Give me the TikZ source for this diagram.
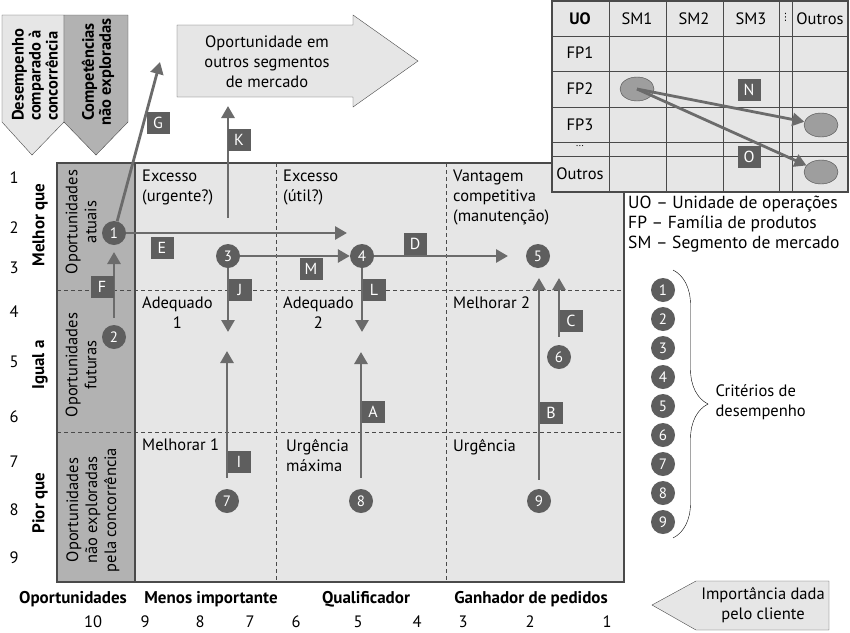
\documentclass[tikz,border=0pt]{standalone}
\usepackage{fontspec}
\setmainfont{PT Sans}
\newfontfamily\symfont{DejaVu Sans}
\usetikzlibrary{arrows.meta,shapes.geometric,decorations.pathreplacing}

\definecolor{darkfill}{HTML}{5E5E5E}
\definecolor{flowgray}{HTML}{6B6B6B}
\definecolor{lightfill}{HTML}{E6E6E6}
\definecolor{midfill}{HTML}{B2B2B2}
\definecolor{edgegray}{HTML}{4A4A4A}
\definecolor{blobfill}{HTML}{9E9E9E}

\tikzset{
  num/.style={circle,fill=darkfill,text=white,inner sep=0pt,minimum size=24pt,font=\fontsize{15}{15}\selectfont},
  tag/.style={fill=darkfill,text=white,inner sep=0pt,minimum width=23pt,minimum height=22pt,font=\fontsize{16}{16}\selectfont},
  flow/.style={draw=flowgray,line width=2.8pt,-{Triangle[length=12pt,width=13pt]}},
  celltxt/.style={anchor=north west,align=left,inner sep=0pt},
  vtxt/.style={rotate=90,align=center,inner sep=0pt,font=\fontsize{16.5}{19}\selectfont},
  headtxt/.style={rotate=90,inner sep=0pt,font=\fontsize{16.5}{17}\selectfont\bfseries},
  axislbl/.style={font=\fontsize{17}{17}\selectfont\bfseries},
  blob/.style={ellipse,draw=edgegray,fill=blobfill,minimum width=34pt,minimum height=24pt,inner sep=0pt},
  grid/.style={draw=edgegray,line width=1pt,dash pattern=on 4pt off 3pt},
}

\begin{document}
\begin{tikzpicture}[x=1pt,y=-1pt,font=\fontsize{16.5}{20}\selectfont]
\useasboundingbox (0,0) rectangle (850,632);

% header arrows
\draw[edgegray,fill=lightfill] (2,15) -- (64,15) -- (64,122) -- (32,155) -- (2,122) -- cycle;
\draw[edgegray,fill=midfill] (64,15) -- (128,15) -- (128,122) -- (96,155) -- (64,122) -- cycle;
\node[headtxt,align=left,anchor=west] (hperf) at (35,121) {Desempenho\\comparado à\\concorrência};
\node[headtxt,align=center] (hcomp) at (98,72) {Competências\\não exploradas};

% big arrow on top
\draw[edgegray,fill=lightfill] (177,25) -- (353,25) -- (353,15) -- (418,61) -- (353,107) -- (353,97) -- (177,97) -- cycle;
\node[align=center] (other) at (267,62) {Oportunidade em\\outros segmentos\\de mercado};

% chart
\fill[midfill] (57,163) rectangle (135,582);
\fill[lightfill] (135,163) rectangle (624,582);
\draw[grid] (276,163) -- (276,582);
\draw[grid] (446,163) -- (446,582);
\draw[grid] (57,290) -- (624,290);
\draw[grid] (57,432) -- (624,432);
\draw[edgegray,line width=1.2pt] (135,163) -- (135,582);
\draw[edgegray,line width=1.2pt] (57,163) rectangle (624,582);

\node[celltxt] (exc1) at (142,170) {Excesso\\(urgente?)};
\node[celltxt] (exc2) at (283,170) {Excesso\\(útil?)};
\node[celltxt] (vant) at (453,170) {Vantagem\\competitiva\\(manutenção)};
\node[celltxt,align=center] (adq1) at (142,297) {Adequado\\1};
\node[celltxt,align=center] (adq2) at (283,297) {Adequado\\2};
\node[celltxt] (mel2) at (453,297) {Melhorar 2};
\node[celltxt] (mel1) at (142,439) {Melhorar 1};
\node[celltxt] (urg1) at (286,439) {Urgência\\máxima};
\node[celltxt] (urg2) at (453,439) {Urgência};

\node[vtxt] (opat) at (81,222) {Oportunidades\\atuais};
\node[vtxt] (opfu) at (81,365) {Oportunidades\\futuras};
\node[vtxt] (opne) at (93,510) {Oportunidades\\não exploradas\\pela concorrência};

% axes
\node[axislbl,rotate=90] (better) at (40,225) {Melhor que};
\node[axislbl,rotate=90] (equal) at (40,365) {Igual a};
\node[axislbl,rotate=90] (worse) at (40,503) {Pior que};
\foreach \v/\py in {1/178,2/228,3/268,4/312,5/362,6/417,7/462,8/510,9/558}
  \node (perf\v) at (14,\py) {\v};

\node[axislbl] (opp) at (73,599) {Oportunidades};
\node[axislbl] (less) at (211,599) {Menos importante};
\node[axislbl] (qual) at (366,599) {Qualificador};
\node[axislbl] (winner) at (531,599) {Ganhador de pedidos};
\foreach \v/\px in {10/93,9/145,8/200,7/250,6/296,5/358,4/417,3/463,2/530,1/607}
  \node (imp\v) at (\px,622) {\v};

\draw[edgegray,fill=lightfill] (652,605) -- (696,581) -- (829,581) -- (829,630) -- (696,630) -- cycle;
\node[align=center] (client) at (763,605) {Importância dada\\pelo cliente};

% criteria
\node[num] (c1) at (114,233) {1};
\node[num] (c2) at (114,337) {2};
\node[num] (c3) at (228,256) {3};
\node[num] (c4) at (362,256) {4};
\node[num] (c5) at (538,256) {5};
\node[num] (c6) at (559,357) {6};
\node[num] (c7) at (227,501) {7};
\node[num] (c8) at (361,501) {8};
\node[num] (c9) at (539,501) {9};

\coordinate (gtip) at (160,62);
\coordinate (ktip) at (228,106);
\coordinate (etip) at (347,233);
\coordinate (dtip) at (508,256);
\coordinate (jtip) at (228,332);
\coordinate (ltip) at (362,332);
\coordinate (itip) at (227,351);
\coordinate (atip) at (361,352);
\coordinate (btip) at (539,278);
\coordinate (ctip) at (559,278);
\coordinate (ftip) at (114,252);

\draw[flow] (c1) -- (gtip);
\draw[flow,shorten <=26pt] (c3) -- (ktip);
\draw[flow] (c1) -- (etip);
\draw[flow] (c3) -- (c4);
\draw[flow] (c4) -- (dtip);
\draw[flow] (c3) -- (jtip);
\draw[flow] (c4) -- (ltip);
\draw[flow,shorten <=11pt] (c7) -- (itip);
\draw[flow,shorten <=11pt] (c8) -- (atip);
\draw[flow,shorten <=9pt] (c9) -- (btip);
\draw[flow,shorten <=8pt] (c6) -- (ctip);
\draw[flow,shorten <=7pt] (c2) -- (ftip);

\node[tag] (tG) at (158,123) {G};
\node[tag] (tK) at (239,140) {K};
\node[tag] (tE) at (162,248) {E};
\node[tag] (tM) at (311,269) {M};
\node[tag] (tD) at (415,244) {D};
\node[tag] (tJ) at (240,290) {J};
\node[tag] (tL) at (374,290) {L};
\node[tag] (tI) at (239,462) {I};
\node[tag] (tA) at (373,412) {A};
\node[tag] (tB) at (551,413) {B};
\node[tag] (tC) at (571,321) {C};
\node[tag] (tF) at (102,287) {F};

% table of units
\fill[lightfill] (552,1) rectangle (848,192);
\foreach \cx in {609,666,723,779,792}
  \draw[edgegray,line width=1pt] (\cx,1) -- (\cx,192);
\foreach \ry in {36,71,107,142,156}
  \draw[edgegray,line width=1pt] (552,\ry) -- (848,\ry);
\draw[edgegray,line width=1.2pt] (552,1) rectangle (848,192);

\node[font=\fontsize{16.5}{16}\selectfont\bfseries] (uo) at (580,19) {UO};
\node (sm1) at (637,19) {SM1};
\node (sm2) at (694,19) {SM2};
\node (sm3) at (751,19) {SM3};
\node[inner sep=0pt,font=\symfont\fontsize{10}{10}\selectfont] (smdots) at (785.5,17) {⋮};
\node (smo) at (820,19) {Outros};
\node (fp1) at (580,53) {FP1};
\node (fp2) at (580,89) {FP2};
\node (fp3) at (580,125) {FP3};
\node[inner sep=0pt,font=\fontsize{10}{10}\selectfont] (fpdots) at (580,146) {...};
\node (fpo) at (580,174) {Outros};

\node[blob] (e1) at (637,89) {};
\node[blob] (e2) at (821,125) {};
\node[blob] (e3) at (821,172) {};
\draw[flow] (e1.center) -- (e2);
\draw[flow] (e1.center) -- (e3);
\node[tag] (tN) at (749,90) {N};
\node[tag] (tO) at (749,157) {O};

\node[anchor=north west,align=left,inner sep=0pt,font=\fontsize{17.5}{20}\selectfont] (keys) at (628,196)
  {UO -- Unidade de operações\\FP -- Família de produtos\\SM -- Segmento de mercado};

% legend of criteria
\foreach \k in {1,...,9}
  \node[num] (leg\k) at (663,{290+29*(\k-1)}) {\k};
\draw[decorate,decoration={brace,amplitude=35pt}] (673,270) -- (673,538);
\node[anchor=west,align=left] (crit) at (712,402) {Critérios de\\desempenho};

\end{tikzpicture}
\end{document}
